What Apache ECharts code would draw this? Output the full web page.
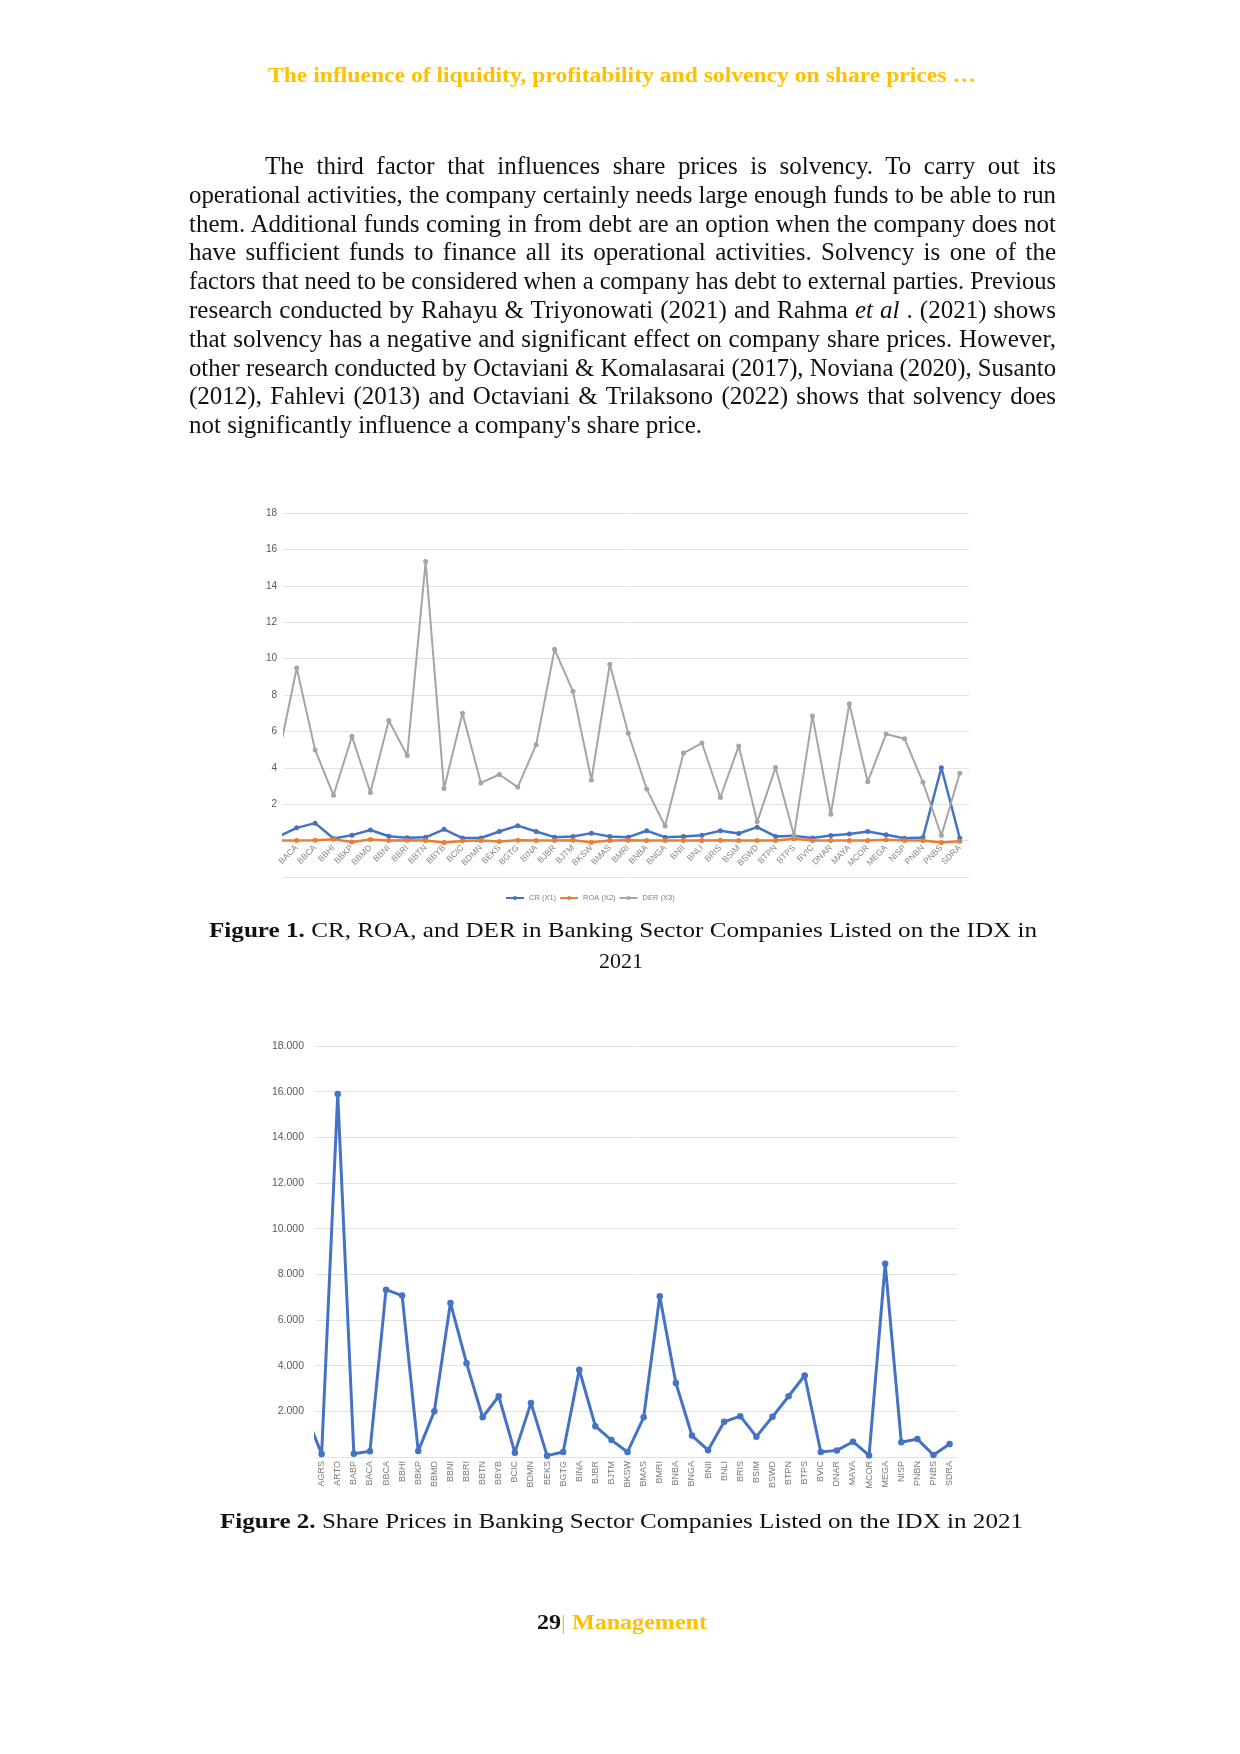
<!DOCTYPE html>
<html>
<head>
<meta charset="utf-8">
<script src="https://cdn.jsdelivr.net/npm/echarts@6/dist/echarts.min.js"></script>
<style>
  html, body { margin: 0; padding: 0; background: #fff; }
  body { width: 1240px; height: 1754px; position: relative; overflow: hidden; }
  #chart { position: absolute; left: 0; top: 0; width: 1240px; height: 1754px; z-index: 0; }
  .t { position: absolute; white-space: nowrap; font-family: "Liberation Serif", "Times New Roman", serif; color: #111; z-index: 2; }
  .t > span { display: inline-block; transform-origin: 0 0; white-space: nowrap; }
  .p { font-size: 25px; line-height: 29px; }
  .gold { color: #FFC000; }
</style>
</head>
<body>
<div id="chart"></div>

<div class="t gold" data-w="708" style="left:268px; top:62px; font-size:22px; line-height:26px; font-weight:bold;"><span>The influence of liquidity, profitability and solvency on share prices …</span></div>

<div class="t p" data-mode="justify" data-w="791" style="left:265px; top:151px;"><span>The third factor that influences share prices is solvency. To carry out its</span></div>
<div class="t p" data-mode="justify" data-w="867" style="left:189px; top:180px;"><span>operational activities, the company certainly needs large enough funds to be able to run</span></div>
<div class="t p" data-mode="justify" data-w="867" style="left:189px; top:209px;"><span>them. Additional funds coming in from debt are an option when the company does not</span></div>
<div class="t p" data-mode="justify" data-w="867" style="left:189px; top:237px;"><span>have sufficient funds to finance all its operational activities. Solvency is one of the</span></div>
<div class="t p" data-mode="justify" data-w="867" style="left:189px; top:266px;"><span>factors that need to be considered when a company has debt to external parties. Previous</span></div>
<div class="t p" data-mode="justify" data-w="867" style="left:189px; top:295px;"><span>research conducted by Rahayu &amp; Triyonowati (2021) and Rahma <i>et al</i> . (2021) shows</span></div>
<div class="t p" data-mode="justify" data-w="867" style="left:189px; top:324px;"><span>that solvency has a negative and significant effect on company share prices. However,</span></div>
<div class="t p" data-mode="justify" data-w="867" style="left:189px; top:353px;"><span>other research conducted by Octaviani &amp; Komalasarai (2017), Noviana (2020), Susanto</span></div>
<div class="t p" data-mode="justify" data-w="867" style="left:189px; top:381px;"><span>(2012), Fahlevi (2013) and Octaviani &amp; Trilaksono (2022) shows that solvency does</span></div>
<div class="t p" data-w="513" style="left:189px; top:410px;"><span>not significantly influence a company's share price.</span></div>

<div class="t" data-w="828" style="left:209px; top:917px; font-size:22px; line-height:26px;"><span><b>Figure 1.</b> CR, ROA, and DER in Banking Sector Companies Listed on the IDX in</span></div>
<div class="t" style="left:521px; width:200px; text-align:center; top:948px; font-size:22px; line-height:26px;">2021</div>

<div class="t" data-w="803" style="left:220px; top:1508px; font-size:22px; line-height:26px;"><span><b>Figure 2.</b> Share Prices in Banking Sector Companies Listed on the IDX in 2021</span></div>

<div class="t" data-w="170" style="left:537px; top:1610px; font-size:21px; line-height:25px; font-weight:bold;"><span>29<span class="gold" style="font-weight:normal">|</span><span class="gold"> Management</span></span></div>

<script>
// ---------- Figure 1 data (first category is only partly visible at the left edge) ----------
var fig1Categories = ['BABP','BACA','BBCA','BBHI','BBKP','BBMD','BBNI','BBRI','BBTN','BBYB','BCIC','BDMN','BEKS','BGTG','BINA','BJBR','BJTM','BKSW','BMAS','BMRI','BNBA','BNGA','BNII','BNLI','BRIS','BSIM','BSWD','BTPN','BTPS','BVIC','DNAR','MAYA','MCOR','MEGA','NISP','PNBN','PNBS','SDRA'];
var fig1CR  = [0.22,0.70,0.96,0.12,0.30,0.58,0.24,0.16,0.18,0.62,0.14,0.14,0.50,0.82,0.50,0.19,0.23,0.41,0.23,0.19,0.54,0.19,0.23,0.30,0.54,0.39,0.74,0.23,0.26,0.14,0.28,0.36,0.50,0.32,0.13,0.17,4.00,0.13];
var fig1ROA = [0.00,0.01,0.02,0.07,-0.08,0.06,0.01,0.02,0.01,-0.10,-0.02,0.01,-0.05,0.02,0.01,0.01,0.02,-0.09,0.01,0.02,0.01,0.01,0.01,0.01,0.02,0.01,0.01,0.01,0.10,0.00,0.00,0.00,0.01,0.04,0.01,0.01,-0.10,-0.03];
var fig1DER = [4.57,9.48,4.98,2.49,5.73,2.64,6.60,4.67,15.33,2.86,7.00,3.17,3.63,2.94,5.27,10.51,8.20,3.33,9.69,5.90,2.83,0.80,4.81,5.36,2.37,5.20,1.03,4.02,0.29,6.84,1.45,7.52,3.23,5.86,5.60,3.20,0.28,3.70];
var fig1Series = ['CR (X1)','ROA (X2)','DER (X3)'];
var fig1YTicks = [2,4,6,8,10,12,14,16,18];

// ---------- Figure 2 data (first category is only partly visible at the left edge) ----------
var fig2Categories = ['AGRO','AGRS','ARTO','BABP','BACA','BBCA','BBHI','BBKP','BBMD','BBNI','BBRI','BBTN','BBYB','BCIC','BDMN','BEKS','BGTG','BINA','BJBR','BJTM','BKSW','BMAS','BMRI','BNBA','BNGA','BNII','BNLI','BRIS','BSIM','BSWD','BTPN','BTPS','BVIC','DNAR','MAYA','MCOR','MEGA','NISP','PNBN','PNBS','SDRA'];
var fig2Price = [1900,130,15900,140,250,7330,7070,260,2000,6750,4110,1740,2660,190,2370,60,220,3820,1350,740,220,1740,7040,3240,940,300,1540,1790,890,1760,2660,3570,220,290,670,70,8460,650,785,90,565];
var fig2YTicks = [2000,4000,6000,8000,10000,12000,14000,16000,18000];

function pts(vals){ return vals.map(function(v,i){ return [i, v]; }); }
function visibleIdx(cats){ var r=[]; for (var i=1;i<cats.length;i++) r.push(i); return r; }
function fmtThousands(v){ return String(v).replace(/\B(?=(\d{3})+(?!\d))/g, '.'); }

var FONT = '"Liberation Sans", Arial, sans-serif';
var GRID_COLOR = '#e2e2e2';
var G1_TOP = 513, G1_H = 364;               // y from 18 down to -2
var G1_ZERO_SHIFT = G1_H * 2 / 20;          // distance from the -2 line up to the 0 line

var chart = echarts.init(document.getElementById('chart'), null, {renderer:'canvas'});
chart.setOption({
  animation: false,
  textStyle: { fontFamily: FONT },
  grid: [
    { left: 284, top: G1_TOP, width: 685, height: G1_H, outerBoundsMode: 'none', containLabel: false },
    { left: 316, top: 1046, width: 641, height: 411, outerBoundsMode: 'none', containLabel: false }
  ],
  legend: {
    data: fig1Series,
    left: 500, top: 889,
    itemWidth: 18, itemHeight: 5, itemGap: 3,
    textStyle: { fontSize: 7.5, color: '#7f7f7f', fontFamily: FONT }
  },
  xAxis: [
    {
      gridIndex: 0, type: 'value', min: 1 - 0.69, max: fig1Categories.length - 1 + 0.5,
      position: 'bottom', offset: -G1_ZERO_SHIFT,
      axisLine: { show: false, onZero: false },
      axisTick: { show: false }, splitLine: { show: false },
      axisLabel: {
        customValues: visibleIdx(fig1Categories),
        formatter: function(v){ return fig1Categories[Math.round(v)] || ''; },
        rotate: 45, fontSize: 8.5, color: '#858585', margin: 6, fontFamily: FONT
      }
    },
    {
      gridIndex: 1, type: 'value', min: 1 - 0.35, max: fig2Categories.length - 1 + 0.46,
      position: 'bottom',
      axisLine: { show: false, onZero: false },
      axisTick: { show: false }, splitLine: { show: false },
      axisLabel: {
        customValues: visibleIdx(fig2Categories),
        formatter: function(v){ return fig2Categories[Math.round(v)] || ''; },
        rotate: 90, fontSize: 9, color: '#7a7a7a', margin: 4, fontFamily: FONT
      }
    }
  ],
  yAxis: [
    {
      gridIndex: 0, type: 'value', min: -2, max: 18, interval: 2,
      axisLine: { show: false, onZero: false }, axisTick: { show: false },
      splitLine: { show: true, lineStyle: { color: GRID_COLOR, width: 1 } },
      axisLabel: {
        formatter: function(v){ return fig1YTicks.indexOf(v) >= 0 ? String(v) : ''; },
        fontSize: 10, color: '#595959', margin: 7, fontFamily: FONT
      }
    },
    {
      gridIndex: 1, type: 'value', min: 0, max: 18000, interval: 2000,
      axisLine: { show: false, onZero: false }, axisTick: { show: false },
      splitLine: { show: true, lineStyle: { color: GRID_COLOR, width: 1 } },
      axisLabel: {
        formatter: function(v){ return fig2YTicks.indexOf(v) >= 0 ? fmtThousands(v) : ''; },
        fontSize: 10.5, color: '#595959', margin: 12, fontFamily: FONT
      }
    }
  ],
  series: [
    { name: fig1Series[0], type: 'line', xAxisIndex: 0, yAxisIndex: 0, data: pts(fig1CR), clip: true,
      symbol: 'circle', symbolSize: 5, color: '#4472C4', lineStyle: { width: 2.5, color: '#4472C4' }, itemStyle: { color: '#4472C4' } },
    { name: fig1Series[1], type: 'line', xAxisIndex: 0, yAxisIndex: 0, data: pts(fig1ROA), clip: true,
      symbol: 'circle', symbolSize: 5, color: '#ED7D31', lineStyle: { width: 2.5, color: '#ED7D31' }, itemStyle: { color: '#ED7D31' } },
    { name: fig1Series[2], type: 'line', xAxisIndex: 0, yAxisIndex: 0, data: pts(fig1DER), clip: true,
      symbol: 'circle', symbolSize: 5, color: '#A5A5A5', lineStyle: { width: 2, color: '#A5A5A5' }, itemStyle: { color: '#A5A5A5' } },
    { name: 'Share Price', type: 'line', xAxisIndex: 1, yAxisIndex: 1, data: pts(fig2Price), clip: true,
      symbol: 'circle', symbolSize: 6.5, color: '#4472C4', lineStyle: { width: 3, color: '#4472C4' }, itemStyle: { color: '#4472C4' } }
  ]
});

// fit text lines to the measured widths of the reference
document.querySelectorAll('.t[data-w]').forEach(function(el){
  var target = parseFloat(el.getAttribute('data-w'));
  var span = el.firstElementChild;
  var nat = span.getBoundingClientRect().width;
  if (el.getAttribute('data-mode') === 'justify' && nat <= target) {
    el.style.width = target + 'px';
    el.style.textAlign = 'justify';
    el.style.textAlignLast = 'justify';
    el.style.whiteSpace = 'normal';
    span.style.display = 'inline';
  } else {
    span.style.transform = 'scaleX(' + (target / nat) + ')';
  }
});
</script>
</body>
</html>
